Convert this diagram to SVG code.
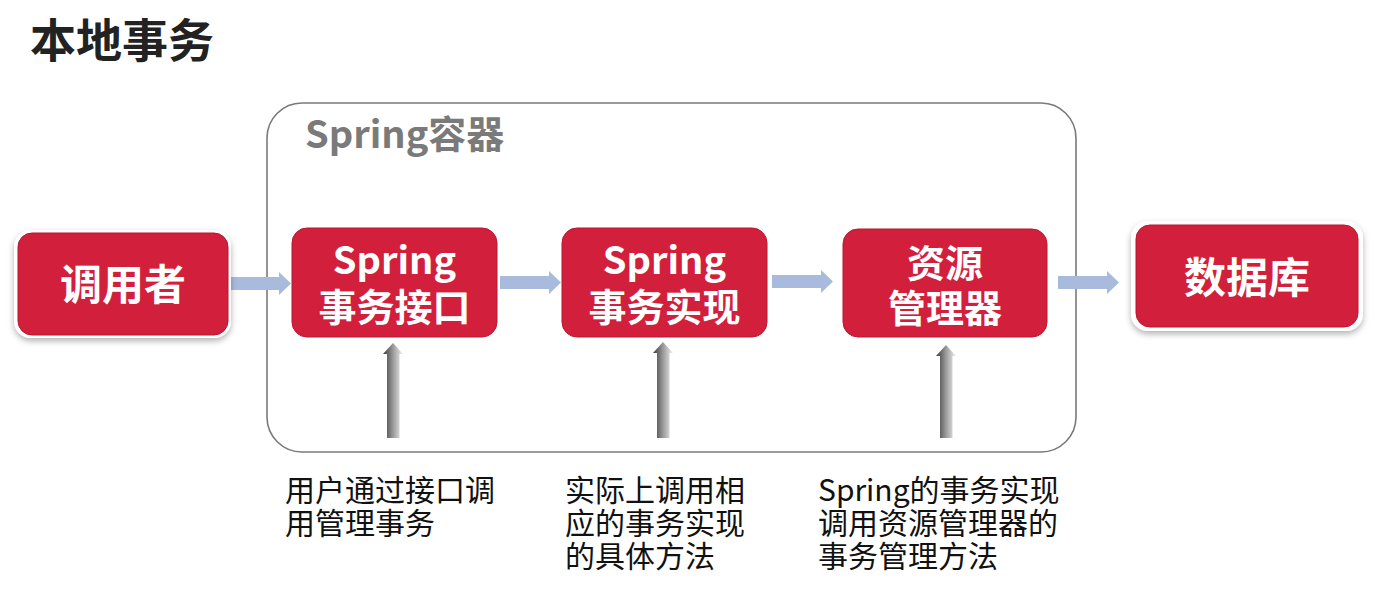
<svg xmlns="http://www.w3.org/2000/svg" width="1385" height="590" viewBox="0 0 1385 590">
<style>
.title{font-family:"Noto Sans CJK SC","Noto Sans",sans-serif;font-weight:bold;font-size:46px;fill:#222}
.ctitle{font-family:"Noto Sans CJK SC","Noto Sans",sans-serif;font-weight:bold;font-size:38px;fill:#7a7a7a}
.nt{font-family:"Noto Sans CJK SC","Noto Sans",sans-serif;font-weight:bold;font-size:38px;fill:#fff;text-anchor:middle}
.big{font-size:42px}
.cap{font-family:"Noto Sans CJK SC","Noto Sans",sans-serif;font-size:30px;fill:#111}
.red{fill:#d21f3c;stroke:#b8172f;stroke-width:1}
.ha{fill:#a9bbdd}
.va{fill:url(#vg)}
</style>
<defs>
<linearGradient id="vg" x1="0" y1="0" x2="1" y2="0">
<stop offset="0" stop-color="#3a3a3a"/>
<stop offset="0.5" stop-color="#9a9a9a"/>
<stop offset="1" stop-color="#f2f2f2"/>
</linearGradient>
<filter id="sh" x="-10%" y="-10%" width="120%" height="130%">
<feDropShadow dx="0" dy="3" stdDeviation="3" flood-color="#000" flood-opacity="0.3"/>
</filter>
</defs>
<rect width="1385" height="590" fill="#fff"/>
<text class="title" x="30" y="57">本地事务</text>
<g id="container">
<rect x="267" y="103" width="809" height="349" rx="35" fill="none" stroke="#7a7a7a" stroke-width="1.6"/>
<text class="ctitle" x="305" y="148">Spring容器</text>
</g>
<g id="connectors">
<path class="ha" d="M230,277 H279 V272 L291,283.5 L279,295 V290 H230 Z"/>
<path class="ha" d="M500,276 H549 V271 L561,282.5 L549,294 V289 H500 Z"/>
<path class="ha" d="M772,275 H821 V270 L833,281.5 L821,293 V288 H772 Z"/>
<path class="ha" d="M1058,276 H1107 V271 L1119,282.5 L1107,294 V289 H1058 Z"/>
<path class="va" d="M393,343 L403,354 H399.5 V438 H387 V354 H383 Z"/>
<path class="va" d="M663,342 L673,353 H669.5 V438 H657 V353 H653 Z"/>
<path class="va" d="M946,345 L956,356 H952.5 V438 H940 V356 H936 Z"/>
</g>
<g id="caller">
<rect x="14" y="230" width="217" height="108" rx="17" fill="#fff" filter="url(#sh)"/>
<rect class="red" x="18" y="233" width="210" height="102" rx="14"/>
<text class="nt big" x="123" y="300">调用者</text>
</g>
<g id="iface">
<rect class="red" x="292" y="228" width="205" height="109" rx="15"/>
<text class="nt" x="394.5" y="274">Spring</text>
<text class="nt" x="394.5" y="321">事务接口</text>
</g>
<g id="impl">
<rect class="red" x="562" y="228" width="205" height="109" rx="15"/>
<text class="nt" x="664.5" y="274">Spring</text>
<text class="nt" x="664.5" y="321">事务实现</text>
</g>
<g id="resmgr">
<rect class="red" x="843" y="229" width="204" height="108" rx="15"/>
<text class="nt" x="945" y="277">资源</text>
<text class="nt" x="945" y="322">管理器</text>
</g>
<g id="db">
<rect x="1131" y="221" width="232" height="110" rx="17" fill="#fff" filter="url(#sh)"/>
<rect class="red" x="1136" y="225" width="222" height="102" rx="14"/>
<text class="nt big" x="1247" y="293">数据库</text>
</g>
<g id="captions">
<text class="cap" x="285" y="501">用户通过接口调</text>
<text class="cap" x="285" y="534">用管理事务</text>
<text class="cap" x="565" y="501">实际上调用相</text>
<text class="cap" x="565" y="534">应的事务实现</text>
<text class="cap" x="565" y="567">的具体方法</text>
<text class="cap" x="818" y="501">Spring的事务实现</text>
<text class="cap" x="818" y="534">调用资源管理器的</text>
<text class="cap" x="818" y="567">事务管理方法</text>
</g>
</svg>
